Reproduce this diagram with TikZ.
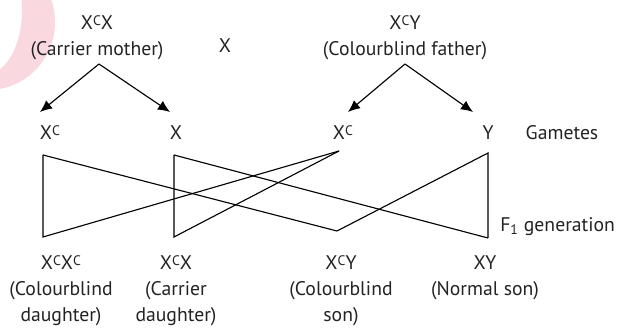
\documentclass[tikz,border=0pt]{standalone}
\usepackage{fontspec}
\setmainfont{PT Sans}
\usetikzlibrary{arrows.meta}
\definecolor{ringpink}{RGB}{249,216,223}
\definecolor{inkgray}{RGB}{35,35,35}
% hochgestelltes C fuer das Farbenblind-Allel
\newcommand{\Cup}{\raisebox{3.3pt}{\fontsize{9.8}{10}\selectfont C}}

\begin{document}
\begin{tikzpicture}[
    txt/.style={inner sep=0pt, align=center, text=inkgray,
                font=\fontsize{14}{18.5}\selectfont},
    split/.style={line width=0.8pt, -{Latex[length=3mm,width=2.6mm]}},
    cross/.style={line width=0.8pt, line join=miter}
]

% Rahmen
\useasboundingbox (0,0) rectangle (15.575,8.225);

% Rosa Bogen oben links
\begin{scope}
    \clip (0,0) rectangle (15.575,8.225);
    \fill[ringpink, even odd rule] (-0.3,7.675) ellipse (1.675 and 1.7)
        (-0.375,7.975) ellipse (0.925 and 1.625);
\end{scope}

% Eltern
\node[txt, anchor=north] (mother) at (2.425,7.85) {X\Cup X\\(Carrier mother)};
\node[txt, anchor=base] (xlone) at (5.625,6.9) {X};
\node[txt, anchor=north] (father) at (10.125,7.85) {X\Cup Y\\(Colourblind father)};

% Gameten
\node[txt, anchor=base] (xcM) at (1.25,4.725) {X\Cup};
\node[txt, anchor=base] (xM) at (4.4,4.725) {X};
\node[txt, anchor=base] (xcF) at (8.575,4.725) {X\Cup};
\node[txt, anchor=base] (yF) at (12.2,4.725) {Y};
\node[txt, anchor=base] (gametes) at (14.05,4.725) {Gametes};

% Pfeile zu den Gameten
\coordinate (mApex) at (2.475,6.625);
\coordinate (mTipL) at (1.0,5.425);
\coordinate (mTipR) at (4.25,5.425);
\coordinate (fApex) at (10.125,6.625);
\coordinate (fTipL) at (8.7,5.425);
\coordinate (fTipR) at (11.825,5.425);
\draw[split] (mApex) -- (mTipL);
\draw[split] (mApex) -- (mTipR);
\draw[split] (fApex) -- (fTipL);
\draw[split] (fApex) -- (fTipR);

% Kreuzungslinien
\coordinate (xcMtop) at (1.075,4.35);
\coordinate (xMtop) at (4.35,4.35);
\coordinate (xcFpt) at (8.475,4.45);
\coordinate (yFtop) at (12.2,4.4);
\coordinate (xcxc) at (1.075,2.3);
\coordinate (xcx) at (4.35,2.3);
\coordinate (xcy) at (8.425,2.45);
\coordinate (xy) at (12.2,2.275);

\draw[cross] (xcMtop) -- (xcxc) -- (xcFpt);
\draw[cross] (xcMtop) -- (xcy);
\draw[cross] (xMtop) -- (xcx) -- (xcFpt);
\draw[cross] (xMtop) -- (xy);
\draw[cross] (xcy) -- (yFtop) -- (xy);

\node[txt, anchor=west] (f1) at (12.5,2.55) {F\textsubscript{1} generation};

% Nachkommen
\node[txt, anchor=north] (kidA) at (1.525,1.85) {X\Cup X\Cup\\(Colourblind\\daughter)};
\node[txt, anchor=north] (kidB) at (4.4,1.85) {X\Cup X\\(Carrier\\daughter)};
\node[txt, anchor=north] (kidC) at (8.525,1.85) {X\Cup Y\\(Colourblind\\son)};
\node[txt, anchor=north] (kidD) at (12.125,1.85) {XY\\(Normal son)};

\end{tikzpicture}
\end{document}
